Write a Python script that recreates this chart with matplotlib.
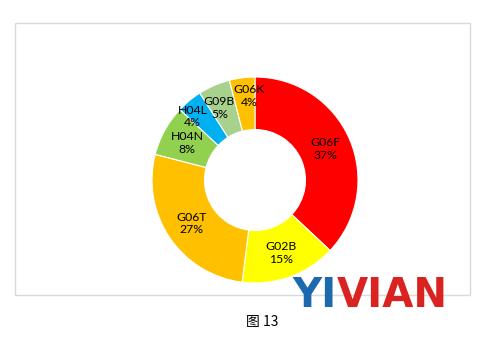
import matplotlib
matplotlib.use("Agg")
import matplotlib.pyplot as plt
from matplotlib.patches import Rectangle

categories = ["G06F", "G02B", "G06T", "H04N", "H04L", "G09B", "G06K"]
values = [37, 15, 27, 8, 4, 5, 4]
colors = ["#FF0000", "#FFFF00", "#FFC000", "#92D050", "#00B0F0", "#A9D18E", "#FFC000"]
caption = "图 13"

W, H = 480, 341
fig = plt.figure(figsize=(W / 100, H / 100), dpi=100)
fig.patch.set_facecolor("white")

# chart frame
fig.patches.append(Rectangle((15 / W, 1 - 295 / H), 455 / W, 272 / H,
                             transform=fig.transFigure, fill=False,
                             edgecolor="#D9D9D9", linewidth=1.0, zorder=0))

cx, cy, r = 255, 180, 103
ax = fig.add_axes([(cx - r) / W, 1 - (cy + r) / H, 2 * r / W, 2 * r / H])

it = iter(categories)
wedges, texts, autotexts = ax.pie(
    values, colors=colors, startangle=90, counterclock=False, radius=1,
    wedgeprops=dict(width=0.51, edgecolor="white", linewidth=0.8),
    autopct=lambda p: f"{next(it)}\n{p:.0f}%", pctdistance=0.75,
    textprops=dict(fontsize=8.8, family="Lato", color="#000000",
                   linespacing=1.2))
ax.set_xlim(-1, 1)
ax.set_ylim(-1, 1)
ax.set_aspect("equal")
ax.axis("off")

# label nudges (pixels) for crowded small slices, as in the reference
nudges = {"H04L": (-13, 4), "G09B": (-5, 1), "G06K": (4, 7)}
for name, t in zip(categories, autotexts):
    t.set_ha("center")
    t.set_va("center")
    if name in nudges:
        dx, dy = nudges[name]
        x, y = t.get_position()
        t.set_position((x + dx / r, y + dy / r))

# watermark logo
fig.text(337 / W, 1 - 296 / H, "YI", color="#1B6AB0", fontsize=29,
         fontweight="bold", family="DejaVu Sans", ha="right", va="center")
fig.text(337 / W, 1 - 296 / H, "VIAN", color="#DA2320", fontsize=29,
         fontweight="bold", family="DejaVu Sans", ha="left", va="center")

fig.text(262 / W, 1 - 322 / H, caption, fontsize=10,
         family=["Noto Sans CJK SC", "DejaVu Sans"], ha="center", va="center")

fig.savefig("out.png", dpi=100, facecolor="white")
